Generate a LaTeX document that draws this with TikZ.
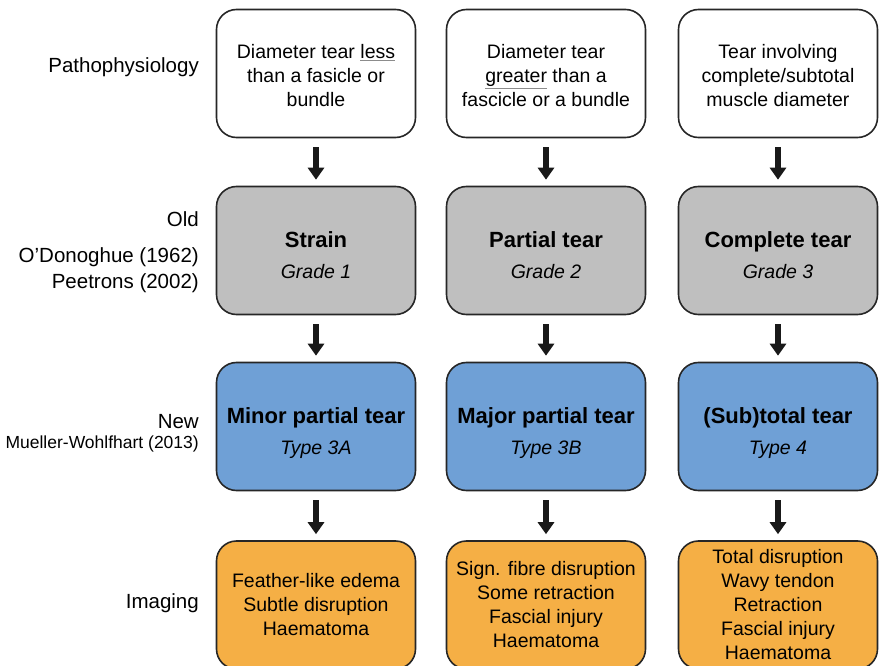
\documentclass[tikz,border=0pt]{standalone}
\usepackage{fontspec}
\setmainfont{Liberation Sans}
\usetikzlibrary{arrows.meta}

\definecolor{oldgray}{HTML}{BFBFBF}
\definecolor{newblue}{HTML}{6FA0D6}
\definecolor{imgorange}{HTML}{F5AF45}

\newcommand{\grayul}[1]{\textcolor{black!45}{\underline{\textcolor{black}{#1}}}}
\newcommand{\heading}[1]{{\fontsize{22}{26}\selectfont\bfseries #1}}

\begin{document}
\begin{tikzpicture}[
    x=1pt, y=-1pt,
    box/.style={
        draw=black!85,
        line width=1.6pt,
        rectangle,
        rounded corners=20pt,
        minimum width=199pt,
        minimum height=128pt,
        align=center,
        font=\fontsize{19.5}{24}\selectfont
    },
    patho/.style={box, fill=white, text height=72pt, text depth=5pt},
    old/.style={box, fill=oldgray, text height=58pt, text depth=3pt},
    new/.style={box, fill=newblue, text height=58pt, text depth=3pt},
    imaging/.style={box, fill=imgorange},
    rowlabel/.style={anchor=east, inner sep=0pt, align=right, font=\fontsize{20.5}{26}\selectfont},
    down/.style={
        -{Triangle[width=16pt,length=12pt]},
        line width=6pt,
        black!90,
        shorten <=9pt,
        shorten >=6pt
    }
]

\clip (0,0) rectangle (879,666);

% row labels
\node[rowlabel] (lpatho) at (199,67) {Pathophysiology};
\node[rowlabel] (lold) at (199,219) {Old};
\node[rowlabel] (lolda) at (199,270) {O’Donoghue (1962)\\Peetrons (2002)};
\node[rowlabel] (lnew) at (199,422) {New};
\node[rowlabel, font=\fontsize{17.5}{20}\selectfont] (lnewa) at (199,444) {Mueller-Wohlfhart (2013)};
\node[rowlabel] (limg) at (199,603) {Imaging};

% pathophysiology
\node[patho] (patho1) at (316,73.5) {Diameter tear \grayul{less}\\than a fasicle or\\bundle};
\node[patho] (patho2) at (546,73.5) {Diameter tear\\\grayul{greater} than a\\fascicle or a bundle};
\node[patho] (patho3) at (778,73.5) {Tear involving\\complete/subtotal\\muscle diameter};

% old grading
\node[old] (old1) at (316,250.5) {\heading{Strain}\\[7pt]\textit{Grade 1}};
\node[old] (old2) at (546,250.5) {\heading{Partial tear}\\[7pt]\textit{Grade 2}};
\node[old] (old3) at (778,250.5) {\heading{Complete tear}\\[7pt]\textit{Grade 3}};

% new grading
\node[new] (new1) at (316,426.5) {\heading{Minor partial tear}\\[7pt]\textit{Type 3A}};
\node[new] (new2) at (546,426.5) {\heading{Major partial tear}\\[7pt]\textit{Type 3B}};
\node[new] (new3) at (778,426.5) {\heading{(Sub)total tear}\\[7pt]\textit{Type 4}};

% imaging
\node[imaging] (img1) at (316,605) {Feather-like edema\\Subtle disruption\\Haematoma};
\node[imaging] (img2) at (546,605) {Sign. fibre disruption\\Some retraction\\Fascial injury\\Haematoma};
\node[imaging] (img3) at (778,605) {Total disruption\\Wavy tendon\\Retraction\\Fascial injury\\Haematoma};

\draw[down] (patho1) -- (old1);
\draw[down] (patho2) -- (old2);
\draw[down] (patho3) -- (old3);
\draw[down] (old1) -- (new1);
\draw[down] (old2) -- (new2);
\draw[down] (old3) -- (new3);
\draw[down] (new1) -- (img1);
\draw[down] (new2) -- (img2);
\draw[down] (new3) -- (img3);

\end{tikzpicture}
\end{document}
